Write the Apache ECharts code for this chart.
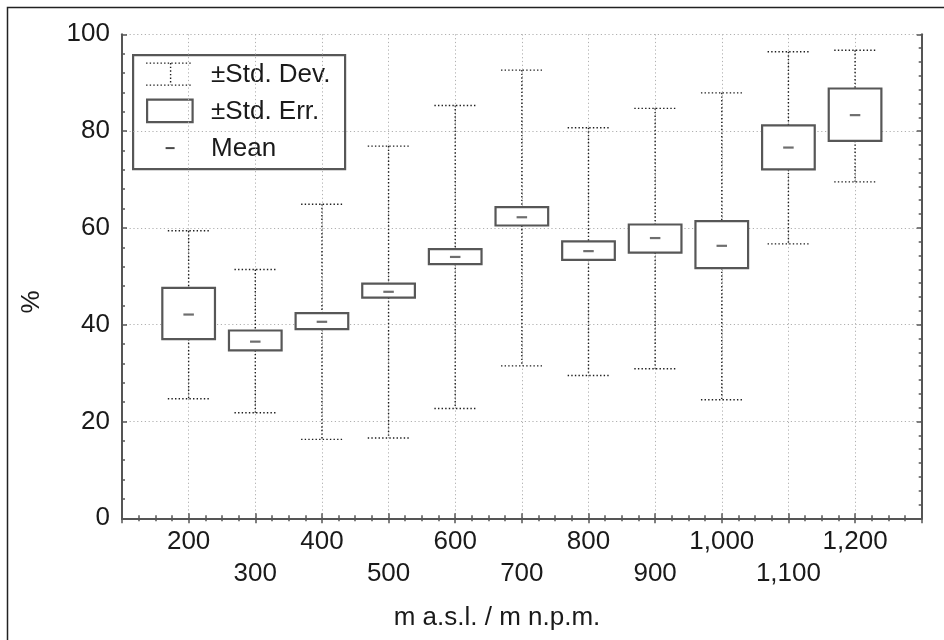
<!DOCTYPE html>
<html>
<head>
<meta charset="utf-8">
<script src="https://cdn.jsdelivr.net/npm/echarts@6/dist/echarts.min.js"></script>
<style>
  html, body { margin: 0; padding: 0; background: #fff; }
  #chart { width: 944px; height: 640px; }
</style>
</head>
<body>
<div id="chart"></div>
<script>
// ---- data ----
const elevations = [200, 300, 400, 500, 600, 700, 800, 900, 1000, 1100, 1200];
const xTickLabels = ['200', '300', '400', '500', '600', '700', '800', '900', '1,000', '1,100', '1,200'];
const yTickValues = [0, 20, 40, 60, 80, 100];
const means   = [42.1, 36.5, 40.6, 46.8, 54.0, 62.2, 55.2, 57.9, 56.3, 76.6, 83.3];
const seLower = [37.0, 34.7, 39.1, 45.6, 52.5, 60.5, 53.4, 54.9, 51.7, 72.1, 78.0];
const seUpper = [47.6, 38.8, 42.4, 48.5, 55.6, 64.3, 57.2, 60.7, 61.4, 81.2, 88.8];
const sdLower = [24.7, 21.8, 16.3, 16.6, 22.7, 31.5, 29.5, 30.9, 24.5, 56.7, 69.5];
const sdUpper = [59.4, 51.4, 64.9, 76.9, 85.3, 92.6, 80.7, 84.7, 87.9, 96.4, 96.7];
const legendLabels = ['±Std. Dev.', '±Std. Err.', 'Mean'];
const xAxisTitle = 'm a.s.l. / m n.p.m.';
const yAxisTitle = '%';

// ---- build library data ----
const whiskerData = elevations.map((e, i) => [e, sdLower[i], seLower[i], seUpper[i], sdUpper[i]]);
const boxData = elevations.map((e, i) => [e, seLower[i], seUpper[i]]);
const meanData = elevations.map((e, i) => [e, means[i]]);

const FONT = '"Liberation Sans", Arial, "DejaVu Sans", sans-serif';
const TXT = '#1a1a1a';
const AX = '#555';
const STROKE = '#575757';
const WHISK = { stroke: '#1e1e1e', lineWidth: 1.4, lineDash: [1.4, 2.2], fill: null };

const chart = echarts.init(document.getElementById('chart'), null, { renderer: 'canvas' });

function whiskerItem(params, api) {
  const x = api.value(0);
  const unit = api.size([100, 0])[0];
  const cx = api.coord([x, 0])[0];
  const y = v => api.coord([x, v])[1];
  const cw = unit * 0.625;
  const style = WHISK;
  return {
    type: 'group',
    children: [
      { type: 'line', shape: { x1: cx - cw / 2, y1: y(api.value(4)), x2: cx + cw / 2, y2: y(api.value(4)) }, style },
      { type: 'line', shape: { x1: cx - cw / 2, y1: y(api.value(1)), x2: cx + cw / 2, y2: y(api.value(1)) }, style },
      { type: 'line', shape: { x1: cx, y1: y(api.value(4)), x2: cx, y2: y(api.value(3)) }, style },
      { type: 'line', shape: { x1: cx, y1: y(api.value(2)), x2: cx, y2: y(api.value(1)) }, style }
    ]
  };
}

function boxItem(params, api) {
  const x = api.value(0);
  const unit = api.size([100, 0])[0];
  const cx = api.coord([x, 0])[0];
  const yTop = api.coord([x, api.value(2)])[1];
  const yBot = api.coord([x, api.value(1)])[1];
  const bw = unit * 0.79;
  return {
    type: 'rect',
    shape: { x: cx - bw / 2, y: yTop, width: bw, height: yBot - yTop },
    style: { fill: '#fff', stroke: STROKE, lineWidth: 2.2 }
  };
}

const dotted = { color: '#b0b0b0', width: 1, type: [1.2, 2.6] };

const option = {
  backgroundColor: '#fff',
  animation: false,
  grid: { left: 122, right: 22.3, top: 34.3, bottom: 121.7, containLabel: false },
  xAxis: [
    {
      type: 'value', min: 100, max: 1300, interval: 100,
      position: 'bottom',
      axisLine: { show: true, lineStyle: { color: AX, width: 2 } },
      axisTick: { show: true, inside: true, length: 5, lineStyle: { color: AX, width: 1.5 } },
      minorTick: { show: true, splitNumber: 4, length: 3, lineStyle: { color: AX, width: 1.5 } },
      splitLine: { show: true, lineStyle: dotted },
      axisLabel: {
        show: true, margin: 8, color: TXT, fontFamily: FONT, fontSize: 26, lineHeight: 32,
        showMinLabel: false, showMaxLabel: false,
        formatter: function (v) {
          const i = elevations.indexOf(v);
          if (i < 0) return '';
          return (i % 2 === 1 ? '\n' : '') + xTickLabels[i];
        }
      }
    },
    {
      type: 'value', min: 100, max: 1300, interval: 100,
      position: 'top',
      axisLine: { show: true, lineStyle: { color: AX, width: 2 } },
      axisTick: { show: true, inside: true, length: 5, lineStyle: { color: AX, width: 1.5 } },
      minorTick: { show: true, splitNumber: 4, length: 3, lineStyle: { color: AX, width: 1.5 } },
      splitLine: { show: false },
      axisLabel: { show: false }
    }
  ],
  yAxis: [
    {
      type: 'value', min: 0, max: 100, interval: 20,
      position: 'left',
      axisLine: { show: true, lineStyle: { color: AX, width: 2 } },
      axisTick: { show: true, inside: true, length: 5, lineStyle: { color: AX, width: 1.5 } },
      minorTick: { show: true, splitNumber: 5, length: 3, lineStyle: { color: AX, width: 1.5 } },
      splitLine: { show: true, lineStyle: dotted },
      axisLabel: {
        show: true, margin: 12, color: TXT, fontFamily: FONT, fontSize: 26,
        formatter: function (v) { return yTickValues.indexOf(v) >= 0 ? String(v) : ''; }
      }
    },
    {
      type: 'value', min: 0, max: 100, interval: 20,
      position: 'right',
      axisLine: { show: true, lineStyle: { color: AX, width: 2 } },
      axisTick: { show: true, inside: true, length: 5, lineStyle: { color: AX, width: 1.5 } },
      minorTick: { show: true, splitNumber: 7, length: 3, lineStyle: { color: AX, width: 1.5 } },
      splitLine: { show: false },
      axisLabel: { show: false }
    }
  ],
  series: [
    {
      name: legendLabels[0], type: 'custom', xAxisIndex: 0, yAxisIndex: 0,
      renderItem: whiskerItem, data: whiskerData,
      encode: { x: 0, y: [1, 2, 3, 4] }, z: 2
    },
    {
      name: legendLabels[1], type: 'custom', xAxisIndex: 0, yAxisIndex: 0,
      renderItem: boxItem, data: boxData,
      encode: { x: 0, y: [1, 2] }, z: 3
    },
    {
      name: legendLabels[2], type: 'scatter', xAxisIndex: 0, yAxisIndex: 0,
      data: meanData, symbol: 'rect', symbolSize: [10.5, 2.2],
      itemStyle: { color: '#4a4a4a' }, z: 4
    }
  ],
  graphic: [
    // outer frame (left/top visible)
    { type: 'rect', left: 5, top: 5, shape: { x: 0, y: 0, width: 950, height: 650 },
      style: { fill: null, stroke: '#222', lineWidth: 1.5 }, silent: true, z: 100 },
    // legend
    { type: 'group', left: 132, top: 54, z: 100, children: [
      { type: 'rect', shape: { x: 0, y: 0, width: 212, height: 114 },
        style: { fill: '#fff', stroke: STROKE, lineWidth: 2.2 } },
      { type: 'line', shape: { x1: 13, y1: 8, x2: 58, y2: 8 }, style: WHISK },
      { type: 'line', shape: { x1: 13, y1: 30, x2: 58, y2: 30 }, style: WHISK },
      { type: 'line', shape: { x1: 37.5, y1: 8, x2: 37.5, y2: 30 }, style: WHISK },
      { type: 'rect', shape: { x: 14, y: 44.5, width: 45.5, height: 22.5 },
        style: { fill: '#fff', stroke: STROKE, lineWidth: 2.2 } },
      { type: 'rect', shape: { x: 32.5, y: 92, width: 9, height: 2 },
        style: { fill: '#4a4a4a' } },
      { type: 'text', x: 78, y: 20, style: { text: legendLabels[0], fill: TXT, font: '26px ' + FONT, verticalAlign: 'middle' } },
      { type: 'text', x: 78, y: 57, style: { text: legendLabels[1], fill: TXT, font: '26px ' + FONT, verticalAlign: 'middle' } },
      { type: 'text', x: 78, y: 94, style: { text: legendLabels[2], fill: TXT, font: '26px ' + FONT, verticalAlign: 'middle' } }
    ]},
    // axis titles
    { type: 'text', x: 497, y: 618, z: 100,
      style: { text: xAxisTitle, fill: TXT, font: '26px ' + FONT, align: 'center', verticalAlign: 'middle' } },
    { type: 'text', x: 32, y: 302, rotation: Math.PI / 2, z: 100,
      style: { text: yAxisTitle, fill: TXT, font: '26px ' + FONT, align: 'center', verticalAlign: 'middle' } }
  ]
};

chart.setOption(option);
</script>
</body>
</html>
